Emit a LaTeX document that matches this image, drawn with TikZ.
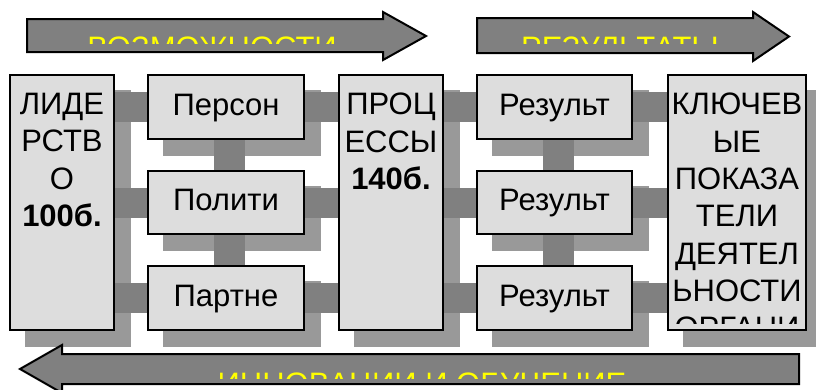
\documentclass[tikz,border=0pt]{standalone}
\usepackage{fontspec}
\setmainfont{Liberation Sans}
\usetikzlibrary{backgrounds}
\definecolor{boxc}{HTML}{DDDDDD}
\definecolor{shc}{HTML}{999999}
\definecolor{barc}{HTML}{808080}
\definecolor{arrc}{HTML}{808080}
\definecolor{ytext}{HTML}{FFFF00}
\pgfdeclarelayer{shadowlayer}
\pgfdeclarelayer{barlayer}
\pgfsetlayers{shadowlayer,barlayer,main}
\begin{document}
\begin{tikzpicture}[x=1pt,y=-1pt,
  box/.style={draw=black, line width=1.5pt, fill=boxc, rectangle, inner sep=0pt, outer sep=0pt},
  bigfont/.style={font=\fontsize{31}{37.3}\selectfont},
  ttext/.style={bigfont, align=center, inner sep=0pt, text=black},
  mtext/.style={bigfont, inner sep=0pt, text=black},
  atext/.style={bigfont, inner sep=0pt, text=ytext},
  arrowshape/.style={draw=black, line width=2pt, fill=arrc, line join=miter},
  hbar/.style={draw=barc, line width=30pt},
  vbar/.style={draw=barc, line width=31pt},
  shadowbox/.style={fill=shc}
]
\useasboundingbox (0,0) rectangle (816,389);

% ---------- top arrows ----------
\draw[arrowshape] (27,19) -- (383,19) -- (383,12) -- (426,36) -- (383,60) -- (383,52) -- (27,52) -- cycle;
\draw[arrowshape] (477,18) -- (753,18) -- (753,12) -- (789,36.5) -- (753,61) -- (753,53) -- (477,53) -- cycle;
\begin{scope}
  \clip (28,20) rectangle (382,43);
  \node[atext, anchor=base] (opp) at (212,58) {ВОЗМОЖНОСТИ};
\end{scope}
\begin{scope}
  \clip (478,19) rectangle (752,43);
  \node[atext, anchor=base] (res) at (620,58) {РЕЗУЛЬТАТЫ};
\end{scope}

% ---------- bottom arrow ----------
\draw[arrowshape] (799,354) -- (62,354) -- (62,345) -- (20,369) -- (62,393) -- (62,384) -- (799,384) -- cycle;
\begin{scope}
  \clip (63,355) rectangle (798,378);
  \node[atext, anchor=base] (inn) at (422,394) {ИННОВАЦИИ И ОБУЧЕНИЕ};
\end{scope}

% ---------- boxes ----------
\node[box, minimum width=104pt, minimum height=255pt] (lead) at (62,202.5) {};
\node[box, minimum width=156pt, minimum height=64pt] (pers) at (226,107) {};
\node[box, minimum width=156pt, minimum height=63pt] (polit) at (226,202.5) {};
\node[box, minimum width=156pt, minimum height=64pt] (partn) at (226,298) {};
\node[box, minimum width=104pt, minimum height=255pt] (proc) at (391,202.5) {};
\node[box, minimum width=155pt, minimum height=64pt] (res1) at (554.5,107) {};
\node[box, minimum width=155pt, minimum height=63pt] (res2) at (554.5,202.5) {};
\node[box, minimum width=155pt, minimum height=64pt] (res3) at (554.5,298) {};
\node[box, minimum width=138pt, minimum height=255pt] (key) at (737,202.5) {};

% ---------- shadows ----------
\begin{pgfonlayer}{shadowlayer}
  \foreach \n in {lead,pers,polit,partn,proc,res1,res2,res3,key}{
    \fill[shadowbox] ([shift={(15,15)}]\n.north west) rectangle ([shift={(17,17)}]\n.south east);
  }
\end{pgfonlayer}

% ---------- connector bars ----------
\begin{pgfonlayer}{barlayer}
  \foreach \m in {pers,polit,partn}{
    \draw[hbar] (lead.east |- \m.west) -- (\m.west);
    \draw[hbar] (\m.east) -- (proc.west |- \m.east);
  }
  \foreach \m in {res1,res2,res3}{
    \draw[hbar] (proc.east |- \m.west) -- (\m.west);
    \draw[hbar] (\m.east) -- (key.west |- \m.east);
  }
  \draw[vbar] ([xshift=3pt]pers.south) -- ([xshift=3pt]polit.north);
  \draw[vbar] ([xshift=3pt]polit.south) -- ([xshift=3pt]partn.north);
  \draw[vbar] ([xshift=4pt]res1.south) -- ([xshift=4pt]res2.north);
  \draw[vbar] ([xshift=4pt]res2.south) -- ([xshift=4pt]res3.north);
\end{pgfonlayer}

% ---------- texts ----------
\begin{scope}
  \clip (lead.north west) rectangle ([yshift=7pt]lead.south east);
  \node[ttext, anchor=north] (leadt) at ([yshift=-18pt]lead.north) {ЛИДЕ\\РСТВ\\О\\\textbf{100б.}};
\end{scope}
\begin{scope}
  \clip (proc.north west) rectangle ([yshift=7pt]proc.south east);
  \node[ttext, anchor=north] (proct) at ([yshift=-18pt]proc.north) {ПРОЦ\\ЕССЫ\\\textbf{140б.}};
\end{scope}
\begin{scope}
  \clip (key.north west) rectangle ([yshift=7pt]key.south east);
  \node[ttext, anchor=north] (keyt) at ([yshift=-18pt]key.north) {КЛЮЧЕВ\\ЫЕ\\ПОКАЗА\\ТЕЛИ\\ДЕЯТЕЛ\\ЬНОСТИ\\ОРГАНИ};
\end{scope}

\node[mtext, anchor=base] (perst) at ([yshift=-8pt]pers.center) {Персон};
\node[mtext, anchor=base] (politt) at ([yshift=-8pt]polit.center) {Полити};
\node[mtext, anchor=base] (partnt) at ([yshift=-8pt]partn.center) {Партне};
\node[mtext, anchor=base] (res1t) at ([yshift=-8pt]res1.center) {Результ};
\node[mtext, anchor=base] (res2t) at ([yshift=-8pt]res2.center) {Результ};
\node[mtext, anchor=base] (res3t) at ([yshift=-8pt]res3.center) {Результ};
\end{tikzpicture}
\end{document}
